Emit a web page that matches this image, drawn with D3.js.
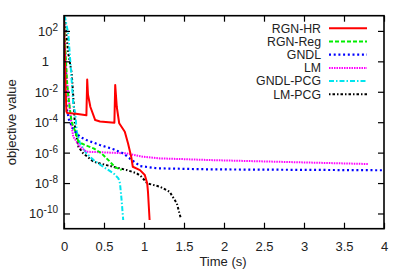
<!DOCTYPE html>
<html>
<head>
<meta charset="utf-8">
<script src="https://cdn.jsdelivr.net/npm/d3@7"></script>
<style>
  body { margin: 0; background: #fff; }
  svg text { font-family: "Liberation Sans", Arial, sans-serif; fill: #222; }
</style>
</head>
<body>
<div id="chart"></div>
<script>
// series: time (s) and log10 of objective value
const seriesNames = ['RGN-HR', 'RGN-Reg', 'GNDL', 'LM', 'GNDL-PCG', 'LM-PCG'];

const rgnHrTime = [0, 0.01, 0.02, 0.03, 0.04, 0.15, 0.28, 0.29, 0.30, 0.33, 0.39, 0.45, 0.63, 0.64, 0.66, 0.69, 0.76, 0.80, 0.84, 0.86, 0.95, 1.01, 1.04, 1.05, 1.07];
const rgnHrLog = [2.7, 0.5, -1.8, -3.3, -3.4, -3.45, -3.55, -1.2, -2.2, -3.0, -3.86, -3.95, -4.03, -1.55, -3.0, -4.07, -4.63, -5.39, -6.27, -6.93, -7.15, -7.47, -8.02, -8.6, -10.43];

const rgnRegTime = [0, 0.02, 0.04, 0.054, 0.075, 0.096, 0.14, 0.18, 0.26, 0.37, 0.47, 0.575, 0.64, 0.72];
const rgnRegLog = [2.7, 0.5, -1.5, -2.3, -3.2, -4.0, -4.6, -5.28, -5.5, -5.72, -6.05, -6.6, -6.97, -7.14];

const gndlTime = [0, 0.015, 0.025, 0.034, 0.06, 0.1, 0.14, 0.2, 0.28, 0.45, 0.62, 0.74, 0.85, 0.95, 1.16, 1.83, 3.99];
const gndlLog = [2.7, 0, -2.0, -3.09, -3.8, -4.3, -4.63, -4.96, -5.17, -5.5, -5.78, -6.05, -6.49, -6.88, -7.03, -7.1, -7.16];

const lmTime = [0, 0.02, 0.04, 0.054, 0.096, 0.116, 0.2, 0.28, 0.575, 0.78, 0.99, 1.2, 1.45, 1.83, 3.8];
const lmLog = [2.7, 0, -1.5, -2.1, -4.3, -4.96, -5.61, -5.94, -6.0, -6.05, -6.27, -6.38, -6.42, -6.49, -6.75];

const gndlPcgTime = [0, 0.0125, 0.054, 0.075, 0.096, 0.116, 0.14, 0.16, 0.2, 0.28, 0.37, 0.49, 0.62, 0.68, 0.7, 0.72, 0.74];
const gndlPcgLog = [2.8, 2.9, 1.8, 0.26, -1.27, -2.8, -3.42, -4.63, -5.39, -6.05, -6.49, -6.93, -7.36, -7.69, -8.02, -9.12, -10.43];

const lmPcgTime = [0, 0.0125, 0.054, 0.096, 0.116, 0.14, 0.18, 0.24, 0.37, 0.53, 0.78, 0.91, 0.97, 1.04, 1.2, 1.32, 1.41, 1.46];
const lmPcgLog = [2.8, 2.67, 0.53, -0.79, -2.33, -4.51, -5.61, -6.05, -6.6, -6.82, -7.14, -7.36, -7.59, -8.02, -8.24, -8.57, -9.33, -10.32];

const xTicks = [0, 0.5, 1, 1.5, 2, 2.5, 3, 3.5, 4];
const yTickExps = [2, 0, -2, -4, -6, -8, -10];

const width = 407, height = 271;
const mLeft = 64, mRight = 384, mTop = 15.7, mBottom = 228.7;

const styles = [
  {color: '#ff0000', dash: null, w: 2},
  {color: '#00ee00', dash: '4,2', w: 2},
  {color: '#0000ff', dash: '2,2.7', w: 2.2},
  {color: '#ff00ff', dash: '1.5,1', w: 2},
  {color: '#00e5ee', dash: '5,2,1.5,2', w: 2},
  {color: '#000000', dash: '1.5,2,2.5,2', w: 2}
];

const allSeries = [
  [rgnHrTime, rgnHrLog], [rgnRegTime, rgnRegLog], [gndlTime, gndlLog],
  [lmTime, lmLog], [gndlPcgTime, gndlPcgLog], [lmPcgTime, lmPcgLog]
];

const svg = d3.select('#chart').append('svg')
  .attr('width', width)
  .attr('height', height);

const x = d3.scaleLinear().domain([0, 4]).range([mLeft, mRight]);
const y = d3.scaleLog().domain([1e-11, 1e3]).range([mBottom, mTop]);

// curves, clipped to the frame
svg.append('clipPath').attr('id', 'clip')
  .append('rect')
  .attr('x', mLeft).attr('y', mTop)
  .attr('width', mRight - mLeft).attr('height', mBottom - mTop);

const line = d3.line()
  .x(d => x(d[0]))
  .y(d => y(Math.pow(10, d[1])));

const curves = svg.append('g').attr('clip-path', 'url(#clip)');
// draw in reverse so RGN-HR sits on top
allSeries.slice().reverse().forEach((s, j) => {
  const i = allSeries.length - 1 - j;
  const pts = s[0].map((t, k) => [t, s[1][k]]);
  curves.append('path')
    .attr('d', line(pts))
    .attr('fill', 'none')
    .attr('stroke', styles[i].color)
    .attr('stroke-width', styles[i].w)
    .attr('stroke-dasharray', styles[i].dash)
    .attr('stroke-linejoin', 'round');
});

// axes with inward ticks, mirrored on top and right
const tickLen = 6;
const yTickVals = yTickExps.map(e => Math.pow(10, e));

const xAxis = svg.append('g')
  .attr('transform', `translate(0, ${mBottom})`)
  .call(d3.axisBottom(x).tickValues(xTicks).tickSize(-tickLen).tickPadding(tickLen + 7).tickFormat(d3.format('')));
svg.append('g')
  .attr('transform', `translate(0, ${mTop})`)
  .call(d3.axisTop(x).tickValues(xTicks).tickSize(-tickLen).tickFormat(''));
const yAxis = svg.append('g')
  .attr('transform', `translate(${mLeft}, 0)`)
  .call(d3.axisLeft(y).tickValues(yTickVals).tickSize(-tickLen).tickFormat(''));
svg.append('g')
  .attr('transform', `translate(${mRight}, 0)`)
  .call(d3.axisRight(y).tickValues(yTickVals).tickSize(-tickLen).tickFormat(''));

svg.selectAll('.domain').remove();
svg.selectAll('.tick line').attr('stroke', '#000').attr('stroke-width', 1.2);

xAxis.selectAll('text')
  .attr('font-size', 13)
  .attr('fill', '#222');

// y tick labels with superscripts
yAxis.selectAll('.tick').each(function(d) {
  const e = Math.round(Math.log10(d));
  const t = d3.select(this).append('text')
    .attr('x', e === 0 ? -15 : -6)
    .attr('y', 4.5)
    .attr('text-anchor', 'end')
    .attr('font-size', 13)
    .attr('fill', '#222');
  if (e === 0) {
    t.text('1');
  } else {
    t.append('tspan').text('10');
    t.append('tspan').attr('dy', -5).attr('font-size', 10).text(e);
  }
});

// frame
svg.append('rect')
  .attr('x', mLeft).attr('y', mTop)
  .attr('width', mRight - mLeft).attr('height', mBottom - mTop)
  .attr('fill', 'none')
  .attr('stroke', '#000')
  .attr('stroke-width', 1.6);

// axis titles
svg.append('text')
  .attr('x', (mLeft + mRight) / 2 - 1)
  .attr('y', 266)
  .attr('text-anchor', 'middle')
  .attr('font-size', 13)
  .text('Time (s)');

svg.append('text')
  .attr('transform', `translate(16, ${(mTop + mBottom) / 2}) rotate(-90)`)
  .attr('text-anchor', 'middle')
  .attr('font-size', 13)
  .text('objective value');

// legend
const legend = svg.append('g');
seriesNames.forEach((name, i) => {
  const ly = 28.3 + i * 13.2;
  legend.append('text')
    .attr('x', 321)
    .attr('y', ly + 4.3)
    .attr('text-anchor', 'end')
    .attr('font-size', 12.3)
    .text(name);
  legend.append('line')
    .attr('x1', 329).attr('x2', 367)
    .attr('y1', ly).attr('y2', ly)
    .attr('stroke', styles[i].color)
    .attr('stroke-width', styles[i].w)
    .attr('stroke-dasharray', styles[i].dash);
});
</script>
</body>
</html>
